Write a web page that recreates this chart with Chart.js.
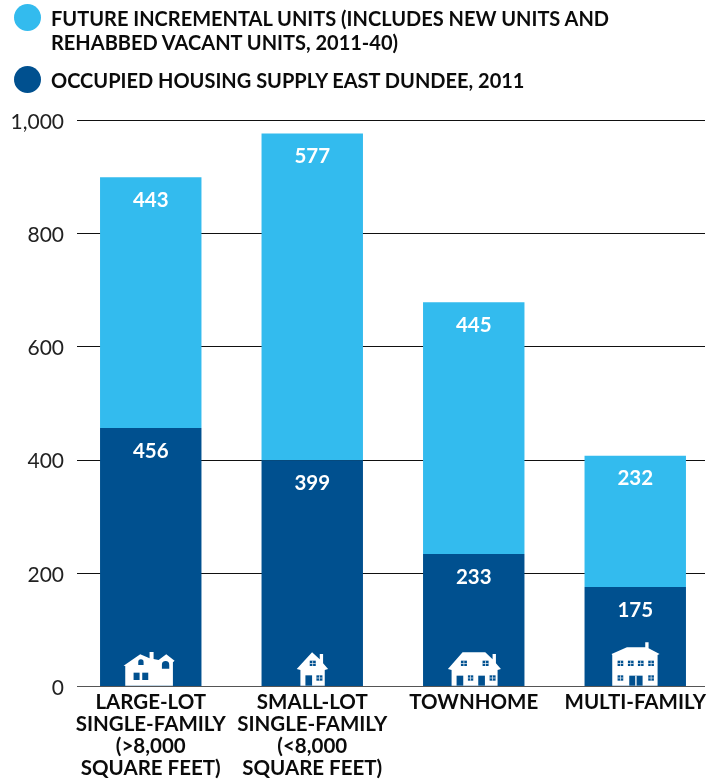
<!DOCTYPE html>
<html><head><meta charset="utf-8">
<style>
html,body{margin:0;padding:0;background:#fff;width:726px;height:782px;overflow:hidden}
#wrap{position:relative;width:726px;height:782px}
canvas{position:absolute;left:0;top:0}
.dot{position:absolute;left:14px;width:27px;height:27px;border-radius:50%}
.lg{position:absolute;left:51px;font:700 20px/24px Lato,sans-serif;color:#0b0b0b;white-space:nowrap}
</style>
<script src="https://cdn.jsdelivr.net/npm/chart.js@4"></script>
</head><body>
<div id="wrap">
<canvas id="c" width="726" height="782"></canvas>
<div class="dot" style="top:4px;background:#33bbee"></div>
<div class="lg" style="top:6px">FUTURE INCREMENTAL UNITS (INCLUDES NEW UNITS AND<br>REHABBED VACANT UNITS, 2011-40)</div>
<div class="dot" style="top:66px;background:#00508f"></div>
<div class="lg" style="top:68px">OCCUPIED HOUSING SUPPLY EAST DUNDEE, 2011</div>
</div>
<script>
const categories = [
  ['LARGE-LOT','SINGLE-FAMILY','(>8,000','SQUARE FEET)'],
  ['SMALL-LOT','SINGLE-FAMILY','(<8,000','SQUARE FEET)'],
  'TOWNHOME',
  'MULTI-FAMILY'
];
const occupied = [456, 399, 233, 175];
const future = [443, 577, 445, 232];
const navy = '#00508f', sky = '#33bbee';

function poly(ctx, pts){ctx.beginPath();pts.forEach((p,i)=>i?ctx.lineTo(p[0],p[1]):ctx.moveTo(p[0],p[1]));ctx.closePath();ctx.fill();}
function rect(ctx,x,y,w,h){ctx.fillRect(x,y,w,h);}
function win(ctx,x,y,w,h){
  ctx.fillStyle=navy;ctx.fillRect(x,y,w,h);
  ctx.fillStyle='#fff';ctx.fillRect(x+w/2-1,y,2,h);ctx.fillRect(x,y+h/2-1,w,2);
}
const icons = [
  {o:[181.5,168],draw(ctx){
    ctx.fillStyle='#fff';
    poly(ctx,[[100,107],[150,73],[178,85],[178,66],[190,66],[190,87],[205,90],[228,73],[253,92],[248,97],[248,167],[105,167],[105,108]]);
    ctx.fillStyle=navy;
    ctx.beginPath();ctx.arc(152,96,8,Math.PI,0);ctx.lineTo(160,105);ctx.lineTo(144,105);ctx.closePath();ctx.fill();
    ctx.beginPath();ctx.arc(226,104,11,Math.PI,0);ctx.lineTo(237,116);ctx.lineTo(215,116);ctx.closePath();ctx.fill();
    rect(ctx,130,128,18,22);rect(ctx,156,128,18,22);
  }},
  {o:[667.5,168],draw(ctx){
    ctx.fillStyle='#fff';
    poly(ctx,[[621,117],[667,67],[690,88],[690,72],[700,72],[700,100],[715,117],[705,120],[705,167],[632,167],[632,120]]);
    ctx.fillStyle=navy;rect(ctx,647,136,20,31);
    win(ctx,660,92,18,16);win(ctx,680,136,18,16);
  }},
  {o:[190.5,168],draw(ctx){
    ctx.fillStyle='#fff';
    poly(ctx,[[113,117],[157,67],[225,67],[247,88],[247,72],[257,72],[257,100],[272,117],[262,120],[262,167],[124,167],[124,120]]);
    ctx.fillStyle=navy;rect(ctx,139,137,20,30);rect(ctx,204,137,20,30);
    win(ctx,152,92,18,16);win(ctx,217,92,18,16);win(ctx,173,136,16,16);win(ctx,238,136,18,16);
  }},
  {o:[675,168],draw(ctx){
    ctx.fillStyle='#fff';
    poly(ctx,[[604,72],[650,52],[705,52],[705,37],[715,37],[715,55],[748,72],[742,75],[742,167],[606,167],[606,75]]);
    [622,653,683,714].forEach(x=>win(ctx,x,92,17,16));
    win(ctx,622,136,17,16);win(ctx,714,136,17,16);
    ctx.fillStyle=navy;rect(ctx,657,137,40,30);
    ctx.fillStyle='#fff';rect(ctx,675,137,4,30);
  }}
];

const gridPlugin = {
  id:'grid77',
  beforeDatasetsDraw(chart){
    const ctx=chart.ctx,y=chart.scales.y;
    ctx.save();
    y.ticks.forEach(t=>{
      const py=Math.round(y.getPixelForValue(t.value))+0.5;
      ctx.strokeStyle=t.value===0?'#555':'#111';
      ctx.lineWidth=1;
      ctx.beginPath();ctx.moveTo(77,py);ctx.lineTo(705,py);ctx.stroke();
    });
    ctx.restore();
  }
};
const overlayPlugin = {
  id:'overlay',
  afterDatasetsDraw(chart){
    const ctx=chart.ctx;
    ctx.save();
    ctx.font='700 20.5px Lato, sans-serif';
    ctx.fillStyle='#fff';ctx.textAlign='center';ctx.textBaseline='middle';
    chart.data.datasets.forEach((ds,di)=>{
      chart.getDatasetMeta(di).data.forEach((bar,i)=>{
        ctx.fillText(String(ds.data[i]),bar.x,bar.y+23);
      });
    });
    const meta=chart.getDatasetMeta(0).data;
    meta.forEach((bar,i)=>{
      const ic=icons[i];
      ctx.save();
      ctx.translate(bar.x,chart.scales.y.getPixelForValue(0));
      ctx.scale(1/3,1/3);
      ctx.translate(-ic.o[0],-ic.o[1]);
      ic.draw(ctx);
      ctx.restore();
    });
    ctx.restore();
  }
};

new Chart(document.getElementById('c'),{
  type:'bar',
  data:{labels:categories,datasets:[
    {label:'OCCUPIED HOUSING SUPPLY EAST DUNDEE, 2011',data:occupied,backgroundColor:navy,borderWidth:0,barPercentage:1,categoryPercentage:0.628},
    {label:'FUTURE INCREMENTAL UNITS (INCLUDES NEW UNITS AND REHABBED VACANT UNITS, 2011-40)',data:future,backgroundColor:sky,borderWidth:0,barPercentage:1,categoryPercentage:0.628}
  ]},
  options:{
    responsive:false,animation:false,
    layout:{padding:{top:120,right:10,left:0,bottom:0}},
    plugins:{legend:{display:false},tooltip:{enabled:false}},
    scales:{
      x:{stacked:true,grid:{display:false},border:{display:false},
        afterFit(s){s.height=96;},
        ticks:{autoSkip:false,maxRotation:0,minRotation:0,padding:-3,color:'#0b0b0b',font:{family:'Lato',size:20.5,weight:'700',lineHeight:1.075}}},
      y:{stacked:true,min:0,max:1000,grid:{display:false},border:{display:false},
        afterFit(s){s.width=70;},
        afterUpdate(s){
          if(s._shifted)return;s._shifted=true;
          const f=s._computeLabelItems.bind(s);
          s._computeLabelItems=a=>f(a).map(it=>{it.options.translation[1]+=2;return it;});
        },
        ticks:{stepSize:200,padding:-2,color:'#222',font:{family:'Lato',size:21,weight:'400'},
          callback:v=>v.toLocaleString('en-US')}}
    }
  },
  plugins:[gridPlugin,overlayPlugin]
});
</script>
</body></html>
